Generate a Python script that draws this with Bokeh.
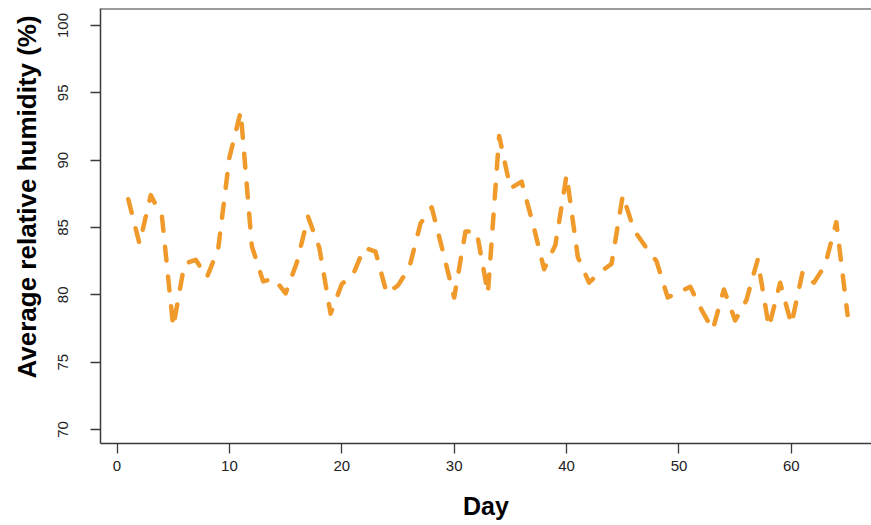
from bokeh.plotting import figure
from bokeh.models import Range1d, Span, FixedTicker, Title
from bokeh.embed import file_html
from bokeh.resources import INLINE

days = list(range(1, 66))
humidity = [
    87.1, 83.8, 87.4, 85.8, 77.6, 82.3, 82.6, 81.3, 83.4, 90.2,
    93.6, 83.6, 81.0, 81.2, 80.1, 82.4, 85.8, 83.5, 78.6, 80.8,
    81.5, 83.5, 83.2, 80.1, 80.7, 82.0, 85.3, 86.5, 83.2, 79.8,
    84.7, 84.7, 80.1, 91.8, 87.9, 88.4, 85.3, 81.9, 83.7, 88.9,
    82.8, 80.9, 81.7, 82.3, 87.4, 84.8, 83.6, 82.5, 79.8, 80.2,
    80.6, 78.9, 77.4, 80.4, 78.1, 79.6, 82.6, 77.6, 80.9, 77.8,
    81.7, 80.9, 82.2, 85.4, 78.5,
]
x_ticks = [0, 10, 20, 30, 40, 50, 60]
y_ticks = [70, 75, 80, 85, 90, 95, 100]
x_title = "Day"
y_title = "Average relative humidity (%)"

FONT = "Liberation Sans"
AXIS_COLOR = "#3a3a3a"
Y_TOP = 101.26

p = figure(width=871, height=525, output_backend="svg", toolbar_location=None,
           x_range=Range1d(-1.47, 67.13), y_range=Range1d(68.96, Y_TOP),
           min_border_left=100, min_border_right=0, min_border_top=8,
           min_border_bottom=82)

p.background_fill_color = "white"
p.border_fill_color = "white"
p.outline_line_color = None
p.grid.grid_line_color = None

p.line(days, humidity, line_color="#EF9A2A", line_width=4.5,
       line_dash="14 16", line_cap="round", line_join="round")

for ax in (p.xaxis[0], p.yaxis[0]):
    ax.axis_line_color = AXIS_COLOR
    ax.axis_line_width = 1.5
    ax.major_tick_line_color = AXIS_COLOR
    ax.major_tick_line_width = 1.3
    ax.major_tick_in = 0
    ax.major_tick_out = 10
    ax.minor_tick_line_color = None
    ax.major_label_text_font = FONT
    ax.major_label_text_font_size = "15px"
    ax.major_label_text_color = "#222222"
    ax.axis_label_text_font = FONT
    ax.axis_label_text_font_size = "25px"
    ax.axis_label_text_font_style = "bold"
    ax.axis_label_text_color = "black"

p.xaxis.ticker = FixedTicker(ticks=x_ticks)
p.yaxis.ticker = FixedTicker(ticks=y_ticks)
p.xaxis.axis_label = x_title
p.yaxis.major_label_orientation = "vertical"
p.xaxis.major_label_standoff = 7
p.yaxis.major_label_standoff = 22
p.xaxis.axis_label_standoff = 18

y_label = Title(text=y_title, align="left", vertical_align="top", offset=65,
                standoff=23, text_font=FONT, text_font_size="26px",
                text_font_style="bold", text_color="black")
p.add_layout(y_label, "left")

top_line = Span(location=Y_TOP, dimension="width", line_color=AXIS_COLOR,
                line_width=2)
p.add_layout(top_line)

open("out.html", "w").write(file_html(p, INLINE))
